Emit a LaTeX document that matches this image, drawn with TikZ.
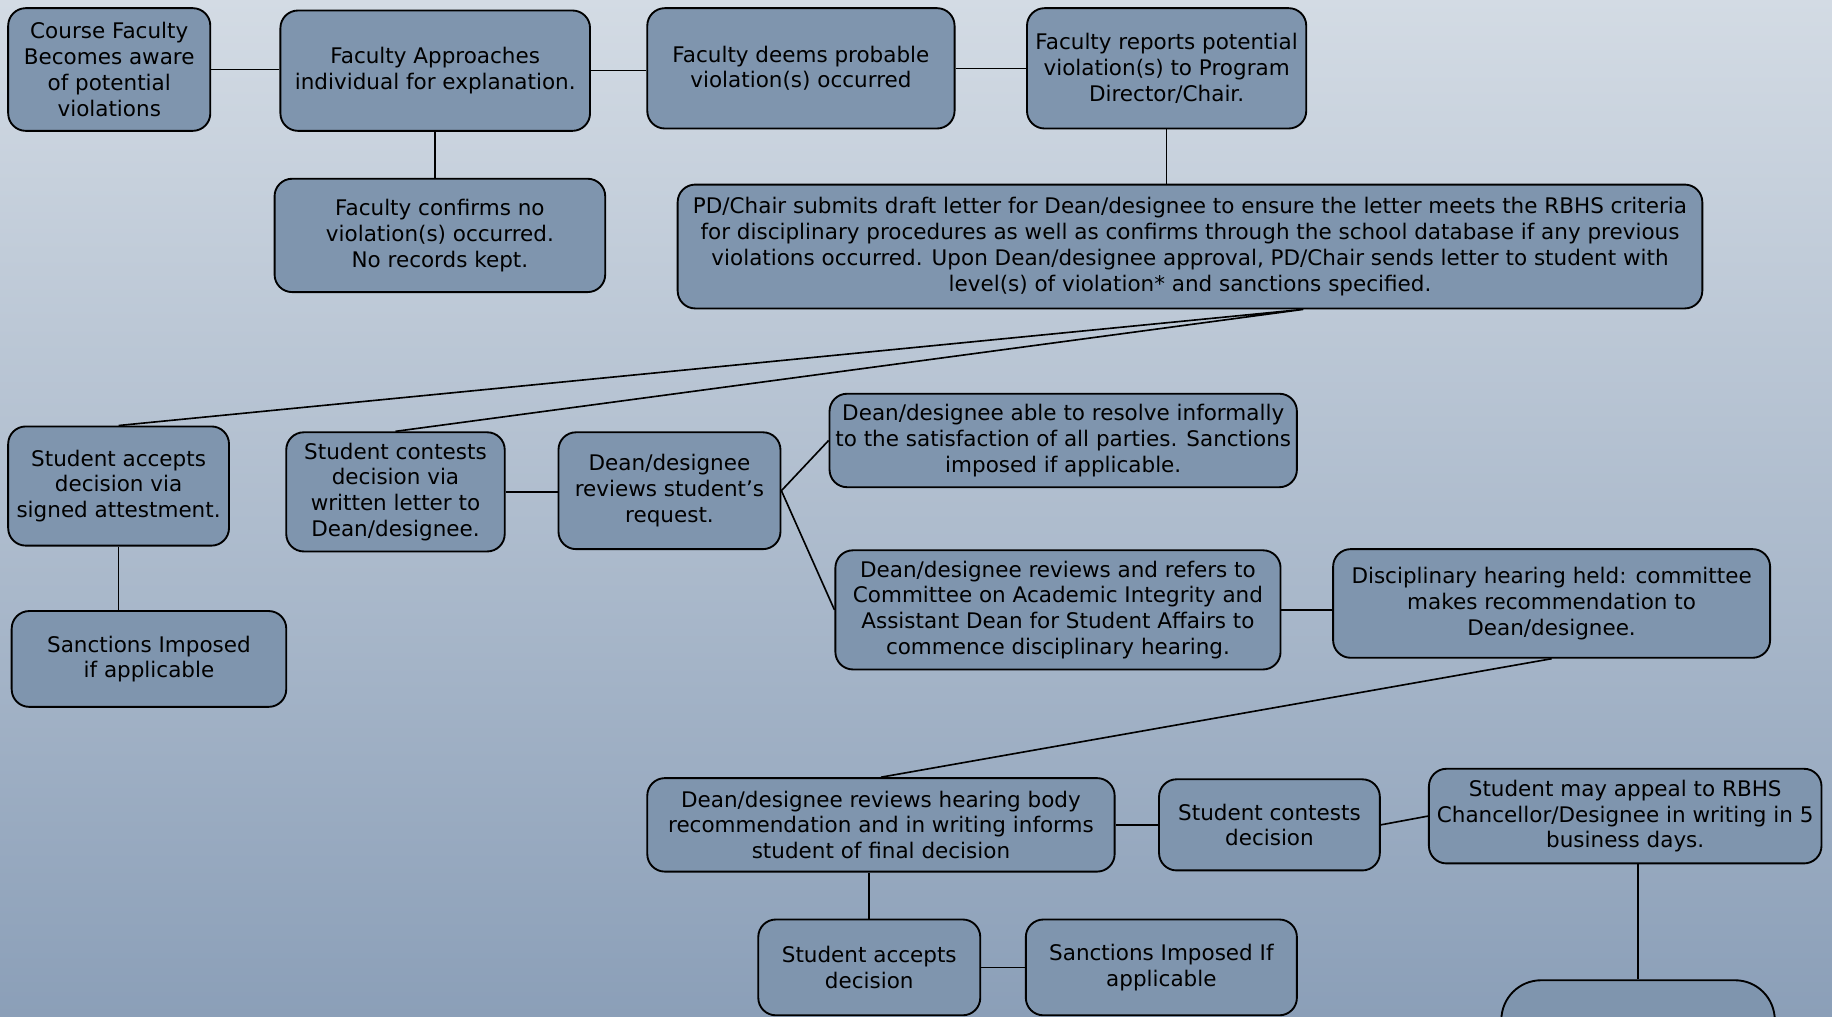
\documentclass[tikz,border=0pt]{standalone}
\usepackage{fontspec}
\setmainfont{DejaVu Sans}
\usetikzlibrary{calc}
\definecolor{boxfill}{RGB}{127,149,174}
\definecolor{bgtop}{RGB}{211,219,228}
\definecolor{bgbottom}{RGB}{139,159,184}
\begin{document}
\begin{tikzpicture}[x=0.5pt,y=-0.5pt,
  box/.style={draw=black, line width=0.8pt, fill=boxfill, rounded corners=7.5pt,
    align=center, inner sep=0pt, font=\fontsize{9.2}{11}\selectfont},
  link/.style={draw=black, line width=0.7pt}]
%Background
\shade [top color=bgtop, bottom color=bgbottom] (0,0) rectangle (1568,870);
\useasboundingbox (0,0) rectangle (1568,870);

%Top row
\node [box, minimum width=86.5pt, minimum height=52.5pt] (aware) at (93.5,59.5) {Course Faculty\\Becomes aware\\of potential\\violations};
\node [box, minimum width=132.5pt, minimum height=51.5pt] (approach) at (372.5,60.5) {Faculty Approaches\\individual for explanation.};
\node [box, minimum width=131.5pt, minimum height=51.5pt] (deems) at (685.5,58.5) {Faculty deems probable\\violation(s) occurred};
\node [box, minimum width=119.5pt, minimum height=51.5pt] (reports) at (998.5,58.5) {Faculty reports potential\\violation(s) to Program\\Director/Chair.};
\node [box, minimum width=141.5pt, minimum height=48.5pt] (noviol) at (376.5,201.5) {Faculty confirms no\\violation(s) occurred.\\No records kept.};
\node [box, minimum width=438.5pt, minimum height=53pt] (draft) at (1018.5,211) {PD/Chair submits draft letter for Dean/designee to ensure the letter meets the RBHS criteria\\for disciplinary procedures as well as confirms through the school database if any previous\\violations occurred. Upon Dean/designee approval, PD/Chair sends letter to student with\\level(s) of violation* and sanctions specified.};

%Middle row
\node [box, minimum width=94.5pt, minimum height=51pt] (acceptA) at (101.5,416) {Student accepts\\decision via\\signed attestment.};
\node [box, minimum width=93.5pt, minimum height=51pt] (contestA) at (338.5,421) {Student contests\\decision via\\written letter to\\Dean/designee.};
\node [box, minimum width=95pt, minimum height=50pt] (review) at (573,420) {Dean/designee\\reviews student’s\\request.};
\node [box, minimum width=200pt, minimum height=40pt] (informal) at (910,377) {Dean/designee able to resolve informally\\to the satisfaction of all parties. Sanctions\\imposed if applicable.};
\node [box, minimum width=190.5pt, minimum height=51pt] (refer) at (905.5,522) {Dean/designee reviews and refers to\\Committee on Academic Integrity and\\Assistant Dean for Student Affairs to\\commence disciplinary hearing.};
\node [box, minimum width=187pt, minimum height=46.5pt] (hearing) at (1328,516.5) {Disciplinary hearing held: committee\\makes recommendation to\\Dean/designee.};
\node [box, minimum width=117.5pt, minimum height=41pt] (sanctA) at (127.5,564) {Sanctions Imposed\\if applicable};

%Bottom row
\node [box, minimum width=200pt, minimum height=40pt] (final) at (754,706) {Dean/designee reviews hearing body\\recommendation and in writing informs\\student of final decision};
\node [box, minimum width=94.5pt, minimum height=39pt] (contestB) at (1086.5,706) {Student contests\\decision};
\node [box, minimum width=168pt, minimum height=40.5pt] (appeal) at (1391,698.5) {Student may appeal to RBHS\\Chancellor/Designee in writing in 5\\business days.};
\node [box, minimum width=95pt, minimum height=41pt] (acceptB) at (744,828) {Student accepts\\decision};
\node [box, minimum width=116pt, minimum height=41pt] (sanctB) at (994,828) {Sanctions Imposed If\\applicable};
\node [box, rounded corners=17pt, minimum width=117pt, minimum height=40pt] (chancellor) at (1402,879) {};

%Straight Lines
\draw [link] (aware.east) -- (aware.east -| approach.west);
\draw [link] (approach.east) -- (approach.east -| deems.west);
\draw [link] (deems.east) -- (reports.west);
\draw [link] (approach.south) -- (approach.south |- noviol.north);
\draw [link] (reports.south) -- (reports.south |- draft.north);
\coordinate (split) at ($(draft.south)+(97,0)$);
\draw [link] (acceptA.north) -- (split) -- (contestA.north);
\draw [link] (acceptA.south) -- (acceptA.south |- sanctA.north);
\draw [link] (contestA.east) -- (contestA.east -| review.west);
\draw [link] (informal.west) -- (review.east) -- (refer.west);
\draw [link] (refer.east) -- (refer.east -| hearing.west);
\draw [link] (hearing.south) -- (final.north);
\draw [link] (final.east) -- (contestB.west);
\draw [link] (contestB.east) -- (appeal.west);
\draw [link] (final.south -| acceptB.north) -- (acceptB.north);
\draw [link] (acceptB.east) -- (sanctB.west);
\draw [link] (chancellor.north |- appeal.south) -- (chancellor.north);
\end{tikzpicture}
\end{document}
